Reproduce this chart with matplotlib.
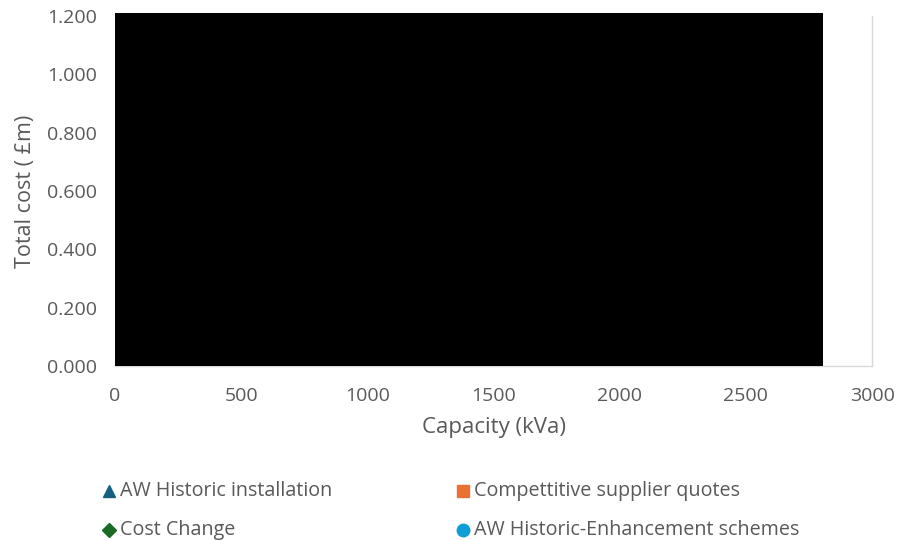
import matplotlib
matplotlib.use("Agg")
import matplotlib.pyplot as plt
from matplotlib.patches import Rectangle
from matplotlib.lines import Line2D

# Series (capacity in kVA, total cost in £m); the plotted points sit under the redaction block
series_names = [
    "AW Historic installation",
    "Compettitive supplier quotes",
    "Cost Change",
    "AW Historic-Enhancement schemes",
]
series_markers = ["^", "s", "D", "o"]
series_colors = ["#156082", "#E97132", "#196B24", "#0F9ED5"]
capacity_kva = [[], [], [], []]
total_cost_m = [[], [], [], []]

x_ticks = [0, 500, 1000, 1500, 2000, 2500, 3000]
y_ticks = [0.0, 0.2, 0.4, 0.6, 0.8, 1.0, 1.2]

# Redacted region in data units
redact_x = (0, 2806)
redact_y = (0, 1.21)

plt.rcParams["font.family"] = ["Open Sans", "DejaVu Sans"]
text_grey = "#595959"
axis_grey = "#D9D9D9"

fig = plt.figure(figsize=(8.97, 5.41), dpi=100)
W, H = 897, 541
ax = fig.add_axes([115 / W, 1 - 366 / H, (872 - 115) / W, (366 - 16) / H])

for name, mk, col, xs, ys in zip(series_names, series_markers, series_colors,
                                 capacity_kva, total_cost_m):
    ax.scatter(xs, ys, marker=mk, color=col, s=40, label=name, zorder=2)

ax.add_patch(Rectangle((redact_x[0], redact_y[0]), redact_x[1] - redact_x[0],
                       redact_y[1] - redact_y[0], facecolor="black",
                       edgecolor="none", zorder=5, clip_on=False))

ax.set_xlim(x_ticks[0], x_ticks[-1])
ax.set_ylim(y_ticks[0], y_ticks[-1])
ax.set_xticks(x_ticks)
ax.set_xticklabels([str(v) for v in x_ticks])
ax.set_yticks(y_ticks)
ax.set_yticklabels([f"{v:.3f}" for v in y_ticks])
ax.tick_params(axis="x", length=0, labelsize=14, labelcolor=text_grey, pad=15)
ax.tick_params(axis="y", length=0, labelsize=14, labelcolor=text_grey, pad=13)

for side in ("top", "left"):
    ax.spines[side].set_visible(False)
for side in ("bottom", "right"):
    ax.spines[side].set_color(axis_grey)
    ax.spines[side].set_linewidth(1.0)

ax.set_xlabel("Capacity (kVa)", fontsize=16, color=text_grey, labelpad=9)
ax.set_ylabel("Total cost ( £m)", fontsize=15.5, color=text_grey, labelpad=8)

# Legend entries laid out in two rows of two
col_x = [109, 463]
row_y = [491, 530]
for i, name in enumerate(series_names):
    cx = col_x[i % 2]
    cy = row_y[i // 2]
    fig.add_artist(Line2D([cx / W], [1 - cy / H], marker=series_markers[i],
                          color=series_colors[i], markersize=9 if i != 2 else 7.5,
                          linestyle="none", transform=fig.transFigure))
    fig.text((cx + 11) / W, 1 - cy / H, name, fontsize=14.2, color=text_grey,
             va="center", ha="left")

fig.savefig("out.png", dpi=100)
